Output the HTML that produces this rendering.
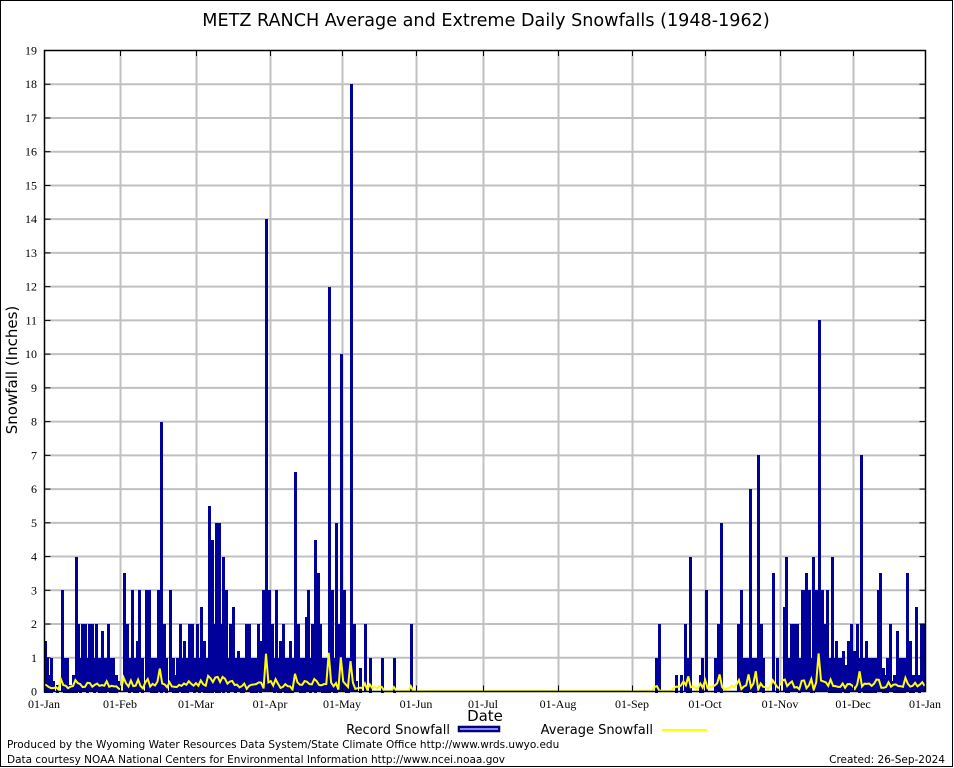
<!DOCTYPE html>
<html><head><meta charset="utf-8"><style>
body{margin:0;background:#fff}
svg{display:block}
.t{font-family:"Liberation Serif",serif;font-size:12px;fill:#000}
.s{font-family:"DejaVu Sans","Liberation Sans",sans-serif;fill:#000}
</style></head><body>
<svg id="c" width="954" height="768" xmlns="http://www.w3.org/2000/svg">
<rect x="0.5" y="0.5" width="952" height="766" fill="#fff" stroke="#000"/>
<text class="s" x="486" y="26" font-size="17.6" text-anchor="middle">METZ RANCH Average and Extreme Daily Snowfalls (1948-1962)</text>
<g id="grid"></g>
<g id="bars" shape-rendering="crispEdges"></g>
<polyline id="avg" fill="none" stroke="#ffff00" stroke-width="2"/>
<rect x="44.5" y="50.5" width="881" height="641" fill="none" stroke="#000" stroke-width="1.5"/>
<g id="lab"></g>
<text class="s" x="17" y="370" font-size="15" text-anchor="middle" transform="rotate(-90 17 370)">Snowfall (Inches)</text>
<text class="s" x="485" y="721" font-size="15" text-anchor="middle">Date</text>
<text class="s" x="450" y="734" font-size="13" text-anchor="end">Record Snowfall</text>
<rect x="458" y="726" width="42" height="6" fill="#00009a" stroke="#000" stroke-width="0.5"/>
<rect x="460" y="728" width="38" height="2" fill="#8888ee"/>
<text class="s" x="653" y="734" font-size="13" text-anchor="end">Average Snowfall</text>
<line x1="662" y1="730" x2="707" y2="730" stroke="#ffff00" stroke-width="2"/>
<text class="s" x="7" y="748" font-size="10.5">Produced by the Wyoming Water Resources Data System/State Climate Office http://www.wrds.uwyo.edu</text>
<text class="s" x="7" y="763" font-size="10.5">Data courtesy NOAA National Centers for Environmental Information http://www.ncei.noaa.gov</text>
<text class="s" x="945" y="763" font-size="10.5" text-anchor="end">Created:  26-Sep-2024</text>
</svg>
<script>
var NS="http://www.w3.org/2000/svg";
function el(p,t,a,txt){var e=document.createElementNS(NS,t);for(var k in a)e.setAttribute(k,a[k]);if(txt!==undefined)e.textContent=txt;document.getElementById(p).appendChild(e);return e;}
var X0=44.5,X1=925.5,Y0=691.5,S=641/19;
for(var i=1;i<19;i++){var y=Y0-i*S;el("grid","line",{x1:X0,x2:X1,y1:y,y2:y,stroke:"#c0c0c0","stroke-width":2});}
for(var i=0;i<=19;i++){var y=Y0-i*S;el("lab","text",{class:"t",x:37,y:y+4,"text-anchor":"end"},i);
el("lab","line",{x1:X0,x2:X0+6,y1:y,y2:y,stroke:"#000"});el("lab","line",{x1:X1-6,x2:X1,y1:y,y2:y,stroke:"#000"});}
var mx=[44,120,196,270,342,416,483,558,632,705,780,853,925];
var mn=["01-Jan","01-Feb","01-Mar","01-Apr","01-May","01-Jun","01-Jul","01-Aug","01-Sep","01-Oct","01-Nov","01-Dec","01-Jan"];
for(var i=0;i<mx.length;i++){if(i>0&&i<12)el("grid","line",{x1:mx[i]+.5,x2:mx[i]+.5,y1:50,y2:Y0,stroke:"#c0c0c0","stroke-width":2});
el("lab","text",{class:"t",x:mx[i],y:708,"text-anchor":"middle"},mn[i]);
el("lab","line",{x1:mx[i]+.5,x2:mx[i]+.5,y1:Y0,y2:Y0-6,stroke:"#000"});el("lab","line",{x1:mx[i]+.5,x2:mx[i]+.5,y1:50.5,y2:56,stroke:"#000"});}
var B=[[44,1.5],[46,1],[48,0.5],[50,1],[52,0.3],[56,0.2],[61,3],[63,1],[66,1],[69,0.2],[72,0.5],[75,4],[77,2],[79,1],[81,2],[84,2],[86,1],[88,2],[91,2],[93,1],[95,2],[98,1],[101,1.8],[104,1],[107,2],[109,1],[112,1],[115,0.5],[117,0.3],
[123,3.5],[126,2],[128,1],[131,3],[133,1],[136,1.5],[138,3],[141,1],[145,3],[148,3],[150,1],[152,1],[155,1],[157,3],[160,8],[163,2],[165,1],[169,3],[172,1],[174,0.5],[176,1],[179,2],[181,1],[183,1.5],[186,1],[188,2],[191,2],[193,1],[196,2],[198,1],[200,2.5],[203,1.5],[206,1],[208,5.5],[211,4.5],[213,2],[215,5],[218,5],[220,2],[222,4],[225,3],[227,1],[229,2],[232,2.5],[234,1],[237,1.2],[240,1],[242,1],[245,2],[248,2],[250,1],[252,1],[255,1],[257,2],[259,1.5],[262,3],[265,14],[268,3],[271,2],[273,1],[275,3],[277,1],[279,1.5],[282,2],[284,1],[286,1],[289,1.5],[291,1],[294,6.5],[297,2],[299,1],[301,1],[303,1],[305,2.2],[307,3],[309,1],[311,2],[314,4.5],[317,3.5],[319,2],[321,1],[323,1],[326,1],[328,12],[331,3],[333,1],[335,5],[337,2],[340,10],[343,3],[345,1],[347,1],[350,18],[353,2],[355,0.3],[359,0.7],[364,2],[369,1],[381,1],[393,1],[410,2],
[655,1],[658,2],[675,0.5],[680,0.5],[684,2],[686,1],[689,4],[699,0.5],[701,1],[705,3],[714,1],[717,2],[720,5],[737,2],[740,3],[743,1],[746,1],[749,6],[752,1],[754,1],[757,7],[760,2],[762,1],[772,3.5],[776,1],[783,2.5],[785,4],[787,1],[790,2],[793,2],[796,2],[798,1],[801,3],[803,3],[805,3.5],[808,3],[810,1],[812,4],[815,3],[818,11],[821,3],[823,2],[826,3],[828,1],[831,4],[833,1],[835,1.5],[837,1],[839,1],[842,1.2],[844,0.8],[847,1.5],[850,2],[853,1.2],[856,2],[858,1],[860,7],[863,1],[865,1.5],[867,1],[869,1],[871,1],[874,1],[877,3],[879,3.5],[882,0.7],[884,0.5],[886,1],[889,2],[891,0.3],[893,0.5],[896,1.8],[898,1],[901,1],[903,1],[906,3.5],[909,1.5],[912,0.5],[915,2.5],[918,0.5],[920,2],[923,2]];
var vals={};
B.forEach(function(b){var h=b[1]*S;el("bars","rect",{x:b[0],y:Math.round(Y0-h),width:3,height:Math.round(h)+1,fill:"#00009a"});vals[Math.round((b[0]-44)/2.413)]=b[1];});
var pts=[],seed=7;function r(){seed=(seed*9301+49297)%233280;return seed/233280;}
for(var d=0;d<=365;d++){var v=vals[d]||0,a=0;
var sn=(d<160||d>253);
if(sn){a=0.05+v*0.07+r()*0.12;if(v>=10)a=0.9+r()*0.5;}
if(d>=140&&d<=260)a=v>0?0.1+v*0.03:0.02;
var x=44+d*2.413;pts.push(x.toFixed(1)+","+(Y0-a*S).toFixed(1));}
document.getElementById("avg").setAttribute("points",pts.join(" "));
</script>
</body></html>
